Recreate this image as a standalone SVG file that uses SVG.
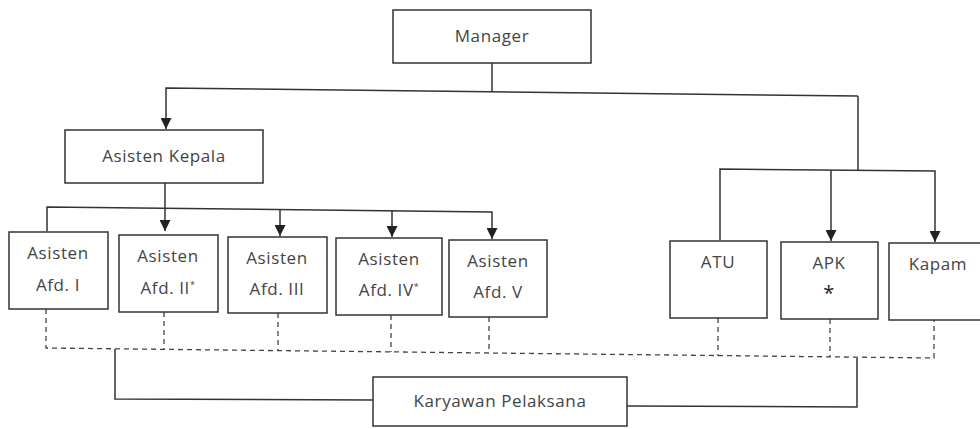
<svg xmlns="http://www.w3.org/2000/svg" width="980" height="429" viewBox="0 0 980 429">
<style>
.box{fill:#fff;stroke:#333;stroke-width:1.5}
.t{font-family:"Open Sans","Noto Sans",sans-serif;font-size:17px;letter-spacing:0.6px;fill:#444;text-anchor:middle}
.sup{font-size:9px}
.ln{fill:none;stroke:#333;stroke-width:1.5}
.dash{fill:none;stroke:#444;stroke-width:1.3;stroke-dasharray:5 4}
</style>
<defs>
<marker id="ah" viewBox="0 0 10 10" refX="10" refY="5" markerWidth="11" markerHeight="11" markerUnits="userSpaceOnUse" orient="auto">
<path d="M0,0 L10,5 L0,10 z" fill="#222"/>
</marker>
</defs>
<rect width="980" height="429" fill="#fff"/>
<g id="connectors">
<path class="ln" d="M492,63 V92"/>
<path class="ln" d="M858,96 L166,88 V129" marker-end="url(#ah)"/>
<path class="ln" d="M165,183 V231" marker-end="url(#ah)"/>
<path class="ln" d="M47,231 V207 L492,212 V239" marker-end="url(#ah)"/>
<path class="ln" d="M280,209 V236" marker-end="url(#ah)"/>
<path class="ln" d="M392,210 V237" marker-end="url(#ah)"/>
<path class="ln" d="M858,96 V170"/>
<path class="ln" d="M720,240 V169 L935,171 V242" marker-end="url(#ah)"/>
<path class="ln" d="M831,170 V241" marker-end="url(#ah)"/>
<path class="dash" d="M46,309 V348 L934,358 V320"/>
<path class="dash" d="M164,312 V349"/>
<path class="dash" d="M278,313 V350"/>
<path class="dash" d="M391,315 V352"/>
<path class="dash" d="M489,317 V353"/>
<path class="dash" d="M718,318 V356"/>
<path class="dash" d="M830,319 V357"/>
<path class="ln" d="M115,349 V399 L373,400"/>
<path class="ln" d="M627,406 L857,407 V358"/>
</g>
<g id="manager"><rect class="box" x="393" y="10" width="198" height="53"/><text class="t" x="492" y="42">Manager</text></g>
<g id="asisten-kepala"><rect class="box" x="65" y="130" width="198" height="53"/><text class="t" x="164" y="162">Asisten Kepala</text></g>
<g id="afd1"><rect class="box" x="9" y="232" width="99" height="77"/><text class="t" x="58" y="259">Asisten</text><text class="t" x="58" y="291">Afd. I</text></g>
<g id="afd2"><rect class="box" x="119" y="235" width="99" height="77"/><text class="t" x="168" y="262">Asisten</text><text class="t" x="168" y="294">Afd. II<tspan class="sup" dy="-6">*</tspan></text></g>
<g id="afd3"><rect class="box" x="228" y="237" width="99" height="76"/><text class="t" x="277" y="264">Asisten</text><text class="t" x="277" y="295">Afd. III</text></g>
<g id="afd4"><rect class="box" x="336" y="238" width="106" height="77"/><text class="t" x="389" y="265">Asisten</text><text class="t" x="389" y="296">Afd. IV<tspan class="sup" dy="-6">*</tspan></text></g>
<g id="afd5"><rect class="box" x="449" y="240" width="98" height="77"/><text class="t" x="498" y="267">Asisten</text><text class="t" x="498" y="298">Afd. V</text></g>
<g id="atu"><rect class="box" x="670" y="241" width="97" height="77"/><text class="t" x="718" y="268">ATU</text></g>
<g id="apk"><rect class="box" x="781" y="242" width="97" height="77"/><text class="t" x="829" y="269">APK</text><text class="t" x="829" y="300" style="fill:#222;font-size:20px">*</text></g>
<g id="kapam"><rect class="box" x="889" y="243" width="95" height="77"/><text class="t" x="938" y="270">Kapam</text></g>
<g id="karyawan"><rect class="box" x="373" y="377" width="254" height="49"/><text class="t" x="500" y="407">Karyawan Pelaksana</text></g>
</svg>
